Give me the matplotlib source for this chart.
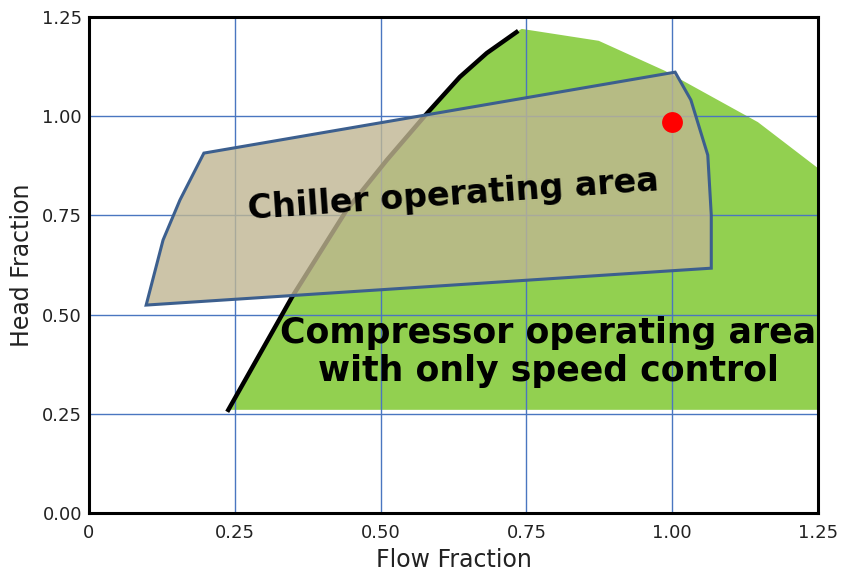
import matplotlib
matplotlib.use("Agg")
import matplotlib.pyplot as plt
from matplotlib.patches import Polygon

# surge line (left edge of compressor area)
surge_flow = [0.237, 0.348, 0.442, 0.511, 0.580, 0.636, 0.682, 0.736]
surge_head = [0.255, 0.544, 0.764, 0.890, 1.008, 1.099, 1.159, 1.215]

# compressor area outline, continuing from top of surge line clockwise
comp_flow = [0.742, 0.874, 0.988, 1.147, 1.25, 1.25, 0.240]
comp_head = [1.220, 1.190, 1.114, 0.985, 0.869, 0.260, 0.260]

# chiller operating area
chiller_flow = [0.098, 0.127, 0.156, 0.197, 1.005, 1.032, 1.061, 1.067, 1.067]
chiller_head = [0.524, 0.688, 0.789, 0.907, 1.111, 1.041, 0.902, 0.751, 0.617]

# design point
point_flow = [1.0]
point_head = [0.985]

xticks = [0, 0.25, 0.5, 0.75, 1.0, 1.25]
xticklabels = ["0", "0.25", "0.50", "0.75", "1.00", "1.25"]
yticks = [0, 0.25, 0.5, 0.75, 1.0, 1.25]
yticklabels = ["0.00", "0.25", "0.50", "0.75", "1.00", "1.25"]

fig = plt.figure(figsize=(8.42, 5.72), dpi=100)
ax = fig.add_axes([89/842, 59/572, 729/842, 496/572])

green = list(zip(surge_flow, surge_head)) + list(zip(comp_flow, comp_head))
ax.add_patch(Polygon(green, closed=True, facecolor="#92D050", edgecolor="none", zorder=1))

ax.set_xticks(xticks)
ax.set_xticklabels(xticklabels)
ax.set_yticks(yticks)
ax.set_yticklabels(yticklabels)
ax.grid(True, color="#4A76C0", linewidth=1.0, zorder=2)
ax.set_axisbelow(False)

ax.plot(surge_flow, surge_head, color="black", linewidth=3.2, solid_capstyle="butt", zorder=3)

ax.add_patch(Polygon(list(zip(chiller_flow, chiller_head)), closed=True,
                     facecolor="#C0B692", alpha=0.8, edgecolor="none", zorder=4))
ax.add_patch(Polygon(list(zip(chiller_flow, chiller_head)), closed=True,
                     facecolor="none", edgecolor="#3C5F8E", linewidth=2.2, zorder=5))

ax.plot(point_flow, point_head, "o", color="#FF0000", markersize=15, markeredgewidth=0, zorder=6)

ax.text(0.625, 0.80, "Chiller operating area", fontsize=24, fontweight="bold",
        rotation=4, ha="center", va="center", zorder=7)
ax.text(0.787, 0.405, "Compressor operating area\nwith only speed control", fontsize=25,
        fontweight="bold", ha="center", va="center", linespacing=1.15, zorder=7)

ax.set_xlim(0, 1.25)
ax.set_ylim(0, 1.25)
ax.tick_params(length=0, labelsize=13, colors="#222222")
ax.tick_params(axis="x", pad=8)
ax.tick_params(axis="y", pad=5)
for s in ax.spines.values():
    s.set_linewidth(2.2)
    s.set_color("black")
    s.set_zorder(8)

ax.set_xlabel("Flow Fraction", fontsize=17, color="#222222", labelpad=4)
ax.set_ylabel("Head Fraction", fontsize=17, color="#222222", labelpad=6)

fig.savefig("out.png", dpi=100)
